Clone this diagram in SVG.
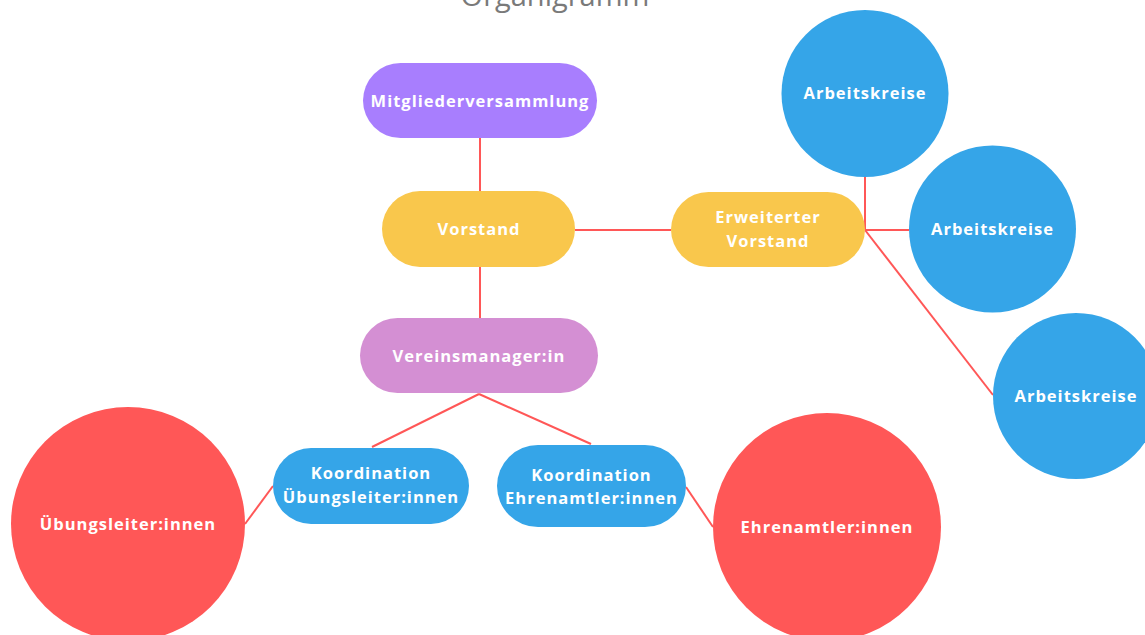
<svg xmlns="http://www.w3.org/2000/svg" width="1145" height="635" viewBox="0 0 1145 635">
<style>
.t{font-family:"Open Sans","Liberation Sans",sans-serif;font-weight:700;font-size:16.5px;fill:#fff;letter-spacing:1px;text-anchor:middle}
.c{stroke:#FF5757;stroke-width:2;fill:none}
.pu{fill:#A87EFE}.ye{fill:#F9C74C}.pk{fill:#D48FD3}.bl{fill:#35A5E8}.rd{fill:#FF5757}
</style>
<rect width="1145" height="635" fill="#fff"/>
<text x="555" y="6" font-family="'Open Sans','Liberation Sans',sans-serif" font-size="29" fill="#7a7a7a" text-anchor="middle">Organigramm</text>
<g id="connectors">
<line class="c" x1="480" y1="138" x2="480" y2="191"/>
<line class="c" x1="480" y1="267" x2="480" y2="318"/>
<line class="c" x1="575" y1="230" x2="671" y2="230"/>
<line class="c" x1="865" y1="230" x2="865" y2="177"/>
<line class="c" x1="865" y1="230" x2="909" y2="230"/>
<line class="c" x1="865" y1="230" x2="993" y2="395"/>
<line class="c" x1="479" y1="394" x2="372" y2="447"/>
<line class="c" x1="479" y1="394" x2="591" y2="444"/>
<line class="c" x1="245" y1="524" x2="273" y2="486"/>
<line class="c" x1="686" y1="487" x2="713" y2="527"/>
</g>
<g id="mitgliederversammlung"><rect class="pu" x="363" y="63" width="234" height="75" rx="37.5"/><text class="t" x="480" y="107">Mitgliederversammlung</text></g>
<g id="vorstand"><rect class="ye" x="382" y="191" width="193" height="76" rx="38"/><text class="t" x="479" y="235">Vorstand</text></g>
<g id="erweiterter-vorstand"><rect class="ye" x="671" y="192" width="194" height="75" rx="37.5"/><text class="t" x="768" y="223">Erweiterter</text><text class="t" x="768" y="247">Vorstand</text></g>
<g id="arbeitskreise-1"><circle class="bl" cx="865" cy="93.5" r="83.5"/><text class="t" x="865" y="99">Arbeitskreise</text></g>
<g id="arbeitskreise-2"><circle class="bl" cx="992.5" cy="229" r="83.5"/><text class="t" x="992.5" y="235">Arbeitskreise</text></g>
<g id="arbeitskreise-3"><circle class="bl" cx="1076" cy="396" r="83"/><text class="t" x="1076" y="402">Arbeitskreise</text></g>
<g id="vereinsmanager"><rect class="pk" x="360" y="318" width="238" height="75" rx="37.5"/><text class="t" x="479" y="362">Vereinsmanager:in</text></g>
<g id="koordination-uebungsleiter"><rect class="bl" x="273" y="448" width="196" height="76" rx="38"/><text class="t" x="371" y="479">Koordination</text><text class="t" x="371" y="503">Übungsleiter:innen</text></g>
<g id="koordination-ehrenamtler"><rect class="bl" x="497" y="445" width="189" height="82" rx="41"/><text class="t" x="591.5" y="481">Koordination</text><text class="t" x="591.5" y="504">Ehrenamtler:innen</text></g>
<g id="uebungsleiter"><circle class="rd" cx="128" cy="524" r="117"/><text class="t" x="128" y="530">Übungsleiter:innen</text></g>
<g id="ehrenamtler"><circle class="rd" cx="827" cy="527" r="114"/><text class="t" x="827" y="533">Ehrenamtler:innen</text></g>
</svg>
